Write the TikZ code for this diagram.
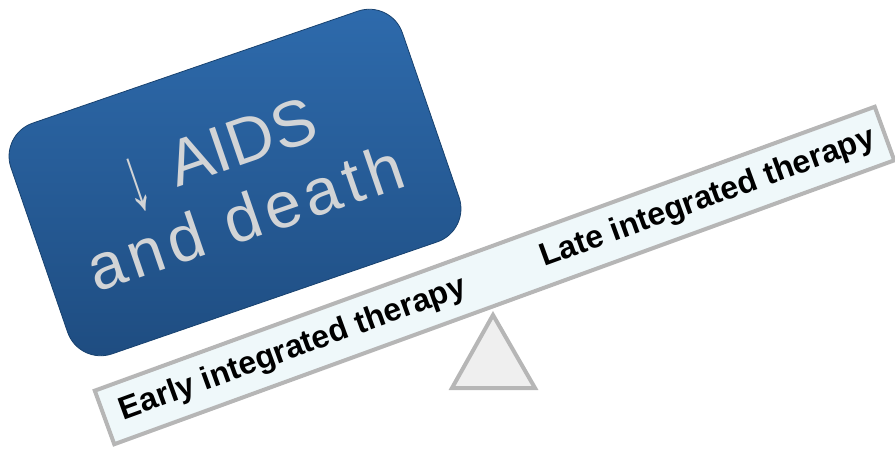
\documentclass[tikz,border=0pt]{standalone}
\usepackage{fontspec}
\setmainfont{Liberation Sans}
\definecolor{boxtop}{HTML}{2E6BAD}
\definecolor{boxbot}{HTML}{1E4C80}
\definecolor{boxrim}{HTML}{18426F}
\definecolor{silver}{HTML}{D2D4D6}
\definecolor{beamfill}{HTML}{EFF8FA}
\definecolor{beamedge}{HTML}{B6B6B6}
\definecolor{pivotfill}{HTML}{EFEFEF}
\tikzset{
  bluebox/.style={rounded corners=35pt, minimum width=414pt, minimum height=244pt,
    top color=boxtop, bottom color=boxbot, draw=boxrim, line width=0.8pt, inner sep=0pt},
  beambar/.style={minimum width=830pt, minimum height=57pt, fill=beamfill,
    draw=beamedge, line width=4pt, inner sep=0pt},
  pivot/.style={fill=pivotfill, draw=beamedge, line width=4pt, line join=miter},
  bigtext/.style={font=\fontsize{65}{70}\selectfont, text=silver, inner sep=0pt},
  beamtext/.style={font=\fontsize{32}{38}\selectfont\bfseries, text=black, inner sep=0pt}
}
\begin{document}
\begin{tikzpicture}[x=1pt,y=1pt]
\useasboundingbox (0,0) rectangle (895,451);

% fulcrum under the beam
\coordinate (apex) at (493,136);
\coordinate (baseL) at (452,63);
\coordinate (baseR) at (535,63);
\draw[pivot] (apex) -- (baseL) -- (baseR) -- cycle;

% tilted beam
\node[beambar, rotate=20] (beam) at (494.5,175.5) {};
\begin{scope}[shift={(494.5,175.5)}, rotate=20, transform shape]
  \node[beamtext, anchor=base west] (early) at (-398,-9) {Early integrated therapy};
  \node[beamtext, anchor=base east] (late) at (404,-9) {Late integrated therapy};
\end{scope}

% heavy outcome box resting on the low side
\node[bluebox, rotate=19] (outcome) at (235,268.5) {};
\begin{scope}[shift={(235,268.5)}, rotate=19, transform shape]
  \node[bigtext, anchor=south] (down) at (-94,1.5) {\resizebox*{24pt}{55pt}{↓}};
  \node[bigtext, anchor=base west] (aids) at (-56,14) {AIDS};
  \node[bigtext, anchor=base] (death) at (-2,-59) {\addfontfeatures{LetterSpace=9}and death};
\end{scope}
\end{tikzpicture}
\end{document}
